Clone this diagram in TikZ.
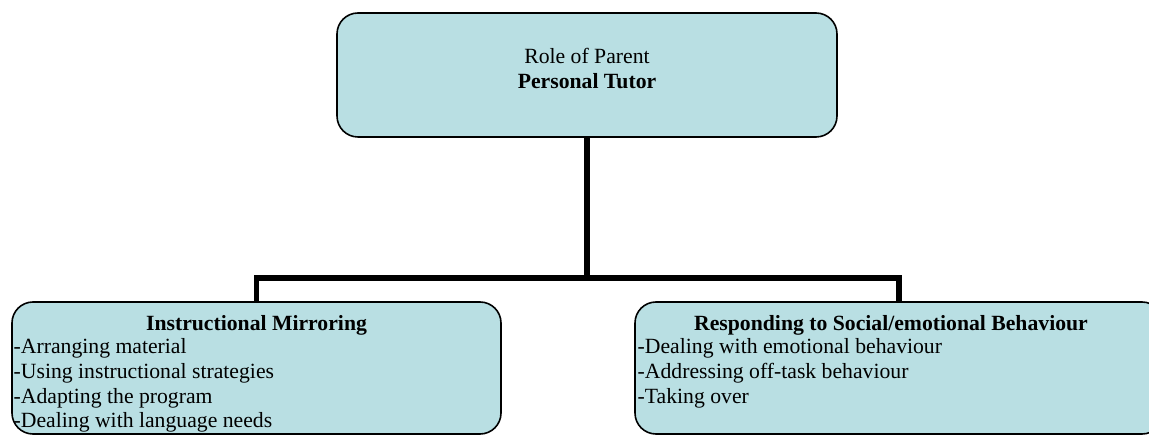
\documentclass[tikz,border=0pt]{standalone}
\usepackage{fontspec}
\setmainfont{Liberation Serif}
\definecolor{boxfill}{RGB}{185,223,227}
\begin{document}
\begin{tikzpicture}[x=1pt,y=-1pt,
  box/.style={draw=black, line width=1.6pt, fill=boxfill, rounded corners=21pt, inner sep=0pt},
  conn/.style={draw=black, line width=5.5pt},
  txt/.style={inner sep=0pt, font=\fontsize{21.7}{24.7}\selectfont},
  ttl/.style={txt, anchor=base},
  item/.style={txt, anchor=base west}]
\useasboundingbox (0,0) rectangle (1149,435);
\clip (0,0) rectangle (1149,435);
\fill[white] (0,0) rectangle (1149,435);
% boxes
\node[box, minimum width=500pt, minimum height=124pt] (top) at (587,75) {};
\node[box, minimum width=489pt, minimum height=132pt] (left) at (256.5,368) {};
\node[box, minimum width=528pt, minimum height=132pt] (right) at (899,368) {};
% connectors
\coordinate (bar) at (587,278);
\draw[conn] (top.south) -- (bar) -| (left.north);
\draw[conn] (bar) -| (right.north);
% top text
\node[ttl] (t1) at (587,64) {Role of Parent};
\node[ttl] (t2) at (587,89) {\textbf{Personal Tutor}};
% left text
\node[ttl] (l0) at (256.5,331) {\textbf{Instructional Mirroring}};
\node[item] (l1) at (13.5,354) {-Arranging material};
\node[item] (l2) at (13.5,379) {-Using instructional strategies};
\node[item] (l3) at (13.5,403.5) {-Adapting the program};
\node[item] (l4) at (13.5,428) {-Dealing with language needs};
% right text
\node[ttl] (r0) at (891,331) {\textbf{Responding to Social/emotional Behaviour}};
\node[item] (r1) at (637.5,354) {-Dealing with emotional behaviour};
\node[item] (r2) at (637.5,379) {-Addressing off-task behaviour};
\node[item] (r3) at (637.5,403.5) {-Taking over};
\end{tikzpicture}
\end{document}
